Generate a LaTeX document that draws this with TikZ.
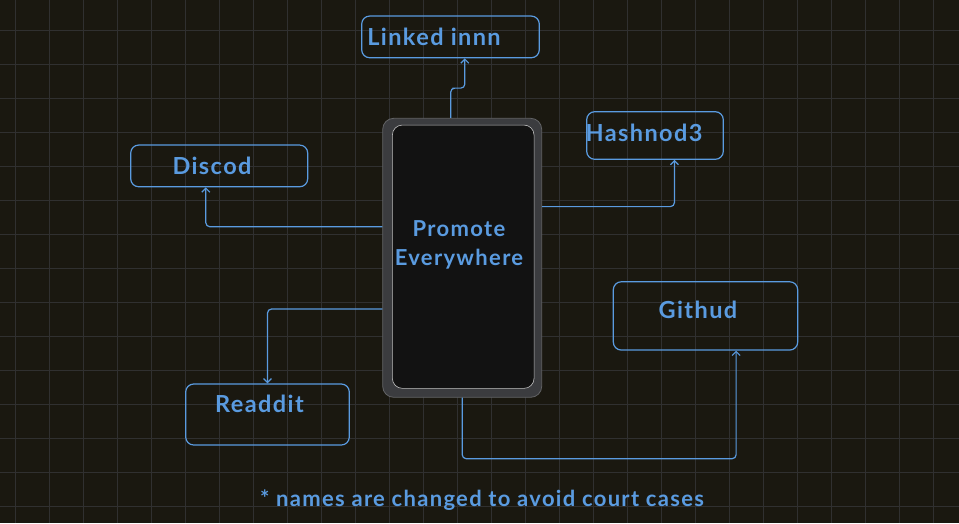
\documentclass[tikz,border=0pt]{standalone}
\usepackage{fontspec}
\setmainfont{Lato}
\newfontfamily\handfont{Lato}[LetterSpace=6]
\usetikzlibrary{calc,arrows.meta}
\definecolor{bg}{HTML}{1A1810}
\definecolor{gridc}{HTML}{303030}
\definecolor{ink}{HTML}{5A9BE0}
\definecolor{shell}{HTML}{3B3C3F}
\definecolor{screenc}{HTML}{121212}
\begin{document}
\begin{tikzpicture}[x=1pt,y=-1pt,
  card/.style={draw=ink,line width=1.2pt,rounded corners=8pt,inner sep=0pt},
  lbl/.style={text=ink,font=\handfont\bfseries\fontsize{23.5}{30}\selectfont,anchor=base,inner sep=0pt},
  link/.style={draw=ink,line width=1.2pt,rounded corners=4pt,->,>={Straight Barb[length=4pt,width=8pt]}}]
\fill[bg] (0,0) rectangle (959,523);
\useasboundingbox (0,0) rectangle (959,523);
\foreach \x in {15.3,49.3,...,959} \draw[gridc,line width=1pt] (\x,0) -- (\x,523);
\foreach \y in {30,64,...,523} \draw[gridc,line width=1pt] (0,\y) -- (959,\y);
% the phone in the middle
\node[fill=shell,draw=shell!80!white,line width=.8pt,rounded corners=11pt,
  minimum width=159pt,minimum height=279pt] (hub) at (462.2,257.8) {};
\node[fill=screenc,draw=white!75!black,line width=.6pt,rounded corners=10pt,
  minimum width=141.7pt,minimum height=263.3pt] (hub-in) at (463.2,256.7) {};
\node[text=ink,font=\handfont\bfseries\fontsize{22}{29}\selectfont,align=center] (hub-t) at (459,245) {Promote\\Everywhere};
% the sites
\node[card,minimum width=177.6pt,minimum height=41.7pt] (linked) at (450.5,36.9) {};
\node[lbl] (linked-t) at (434,45) {Linked innn};
\node[card,minimum width=177pt,minimum height=41.7pt] (discod) at (219.2,165.9) {};
\node[lbl] (discod-t) at (212,174) {Discod};
\node[card,minimum width=136.6pt,minimum height=47.6pt] (hashnod) at (655,135.5) {};
\node[lbl] (hashnod-t) at (644,141) {Hashnod3};
\node[card,minimum width=163.6pt,minimum height=61pt] (readdit) at (267.5,414.5) {};
\node[lbl] (readdit-t) at (259.5,412) {Readdit};
\node[card,minimum width=184.4pt,minimum height=68.3pt] (githud) at (705.5,315.9) {};
\node[lbl] (githud-t) at (698,318) {Githud};
% arrows out of the phone
\draw[link] ($(hub.north west)!.428!(hub.north east)$) |- ($(hub.north)!.5!(linked.south)$)
  -| ($(linked.south west)!.58!(linked.south east)$);
\draw[link] ($(hub.north west)!.389!(hub.south west)$) -| ($(discod.south west)!.425!(discod.south east)$);
\draw[link] ($(hub.north east)!.317!(hub.south east)$) -| ($(hashnod.south west)!.641!(hashnod.south east)$);
\draw[link] ($(hub.north west)!.683!(hub.south west)$) -| (readdit.north);
\draw[link] (hub.south) -- ++(0,61) -| ($(githud.south west)!.665!(githud.south east)$);
\node[lbl,font=\handfont\bfseries\fontsize{22}{28}\selectfont] (note) at (482,506) {* names are changed to avoid court cases};
\end{tikzpicture}
\end{document}
